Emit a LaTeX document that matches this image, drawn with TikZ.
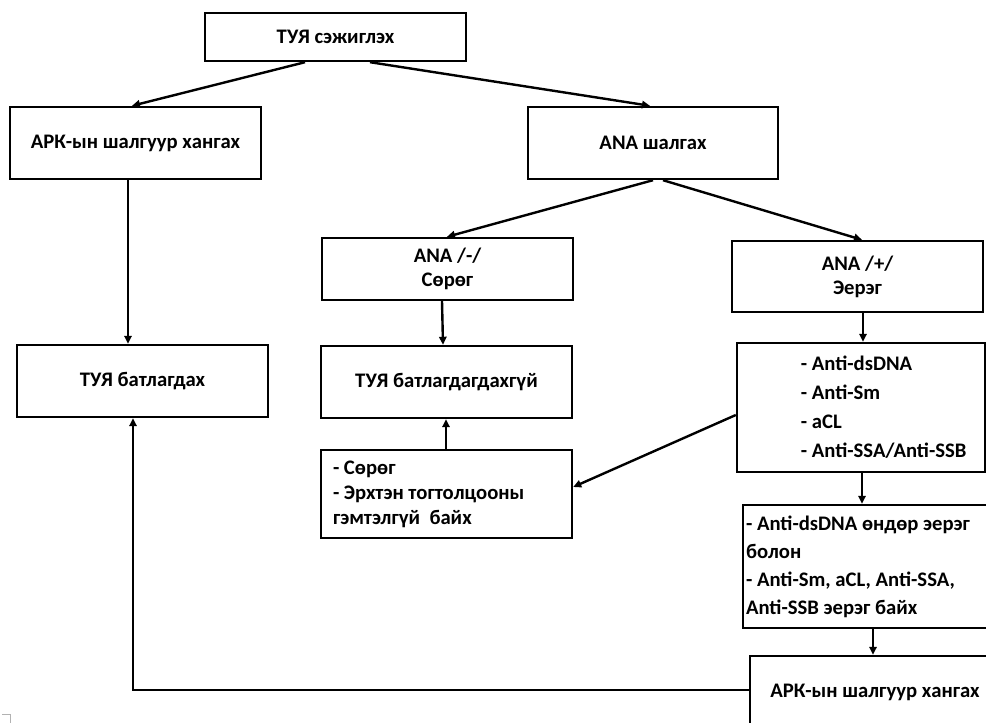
\documentclass[tikz,border=0pt]{standalone}
\usepackage{fontspec}
\setmainfont{Carlito}
\usetikzlibrary{arrows.meta}
\newcommand{\px}{0.75pt}
\frenchspacing
\begin{document}
\begin{tikzpicture}[x=0.75pt,y=-0.75pt,
    box/.style={draw, line width=1.8pt, align=center, inner sep=0pt,
      font=\bfseries\fontsize{15.5}{18}\selectfont},
    arr/.style={line width=1.8pt, -{Triangle[length=6pt,width=5.5pt]}}]
  \clip (0,0) rectangle (986,723);

  \node[box, minimum width=261*\px, minimum height=48*\px] (top) at (335.5,37) {ТУЯ сэжиглэх};
  \node[box, minimum width=251*\px, minimum height=72*\px] (ark1) at (135.5,143) {АРК-ын шалгуур хангах};
  \node[box, minimum width=250*\px, minimum height=72*\px] (ana) at (653,143) {ANA шалгах};
  \node[box, minimum width=251*\px, minimum height=62*\px] (anam) at (447.5,269) {ANA /-/\\Сөрөг};
  \node[box, minimum width=251*\px, minimum height=71*\px] (anap) at (857.5,276.5) {ANA /+/\\Эерэг};
  \node[box, minimum width=251*\px, minimum height=72*\px] (tuyb) at (142.5,381) {ТУЯ батлагдах};
  \node[box, minimum width=251*\px, minimum height=72*\px] (tuyn) at (446.5,382) {ТУЯ батлагдагдахгүй};
  \node[box, minimum width=248*\px, minimum height=129*\px, align=left,
    font=\bfseries\fontsize{15.5}{21.75}\selectfont] (anti) at (861,407.5)
    {\hspace*{34pt}- Anti-dsDNA\\\hspace*{34pt}- Anti-Sm\\\hspace*{34pt}- aCL\\\hspace*{34pt}- Anti-SSA/Anti-SSB};
  \node[box, minimum height=88*\px, text width=227*\px, inner xsep=12*\px, align=flush left,
    font=\bfseries\fontsize{15.5}{18.75}\selectfont] (sorog) at (446.5,494)
    {- Сөрөг\\- Эрхтэн тогтолцооны\\гэмтэлгүй~ байх};
  \node[box, minimum height=123*\px, text width=244*\px, inner xsep=3*\px, align=flush left,
    font=\bfseries\fontsize{15.5}{21}\selectfont] (high) at (868,566.5)
    {- Anti-dsDNA өндөр эерэг\\болон\\- Anti-Sm, aCL, Anti-SSA,\\Anti-SSB эерэг байх};
  \node[box, minimum width=250*\px, minimum height=72*\px] (ark2) at (875,692) {АРК-ын шалгуур хангах};

  \draw[arr] (top.south -| 305,0) -- (ark1.north -| 132,0);
  \draw[arr] (top.south -| 370,0) -- (ana.north -| 650,0);
  \draw[arr] (ark1.south -| 128,0) -- (tuyb.north -| 128,0);
  \draw[arr] (ana.south -| 653,0) -- (anam.north -| 447,0);
  \draw[arr] (ana.south -| 663,0) -- (anap.north -| 862,0);
  \draw[arr] (anam.south -| 442,0) -- (tuyn.north -| 443,0);
  \draw[arr] (sorog.north -| 446,0) -- (tuyn.south -| 446,0);
  \draw[arr] (anap.south -| 863,0) -- (anti.north -| 863,0);
  \draw[arr] (anti.west |- 0,415) -- (sorog.east |- 0,487);
  \draw[arr] (anti.south -| 862,0) -- (high.north -| 862,0);
  \draw[arr] (high.south -| 873,0) -- (ark2.north -| 873,0);
  \draw[arr] (ark2.west |- 0,690) -| (tuyb.south -| 133,0);

  \draw[gray!60, line width=0.6pt] (2,714) -- (10,714) -- (10,723);
\end{tikzpicture}
\end{document}
